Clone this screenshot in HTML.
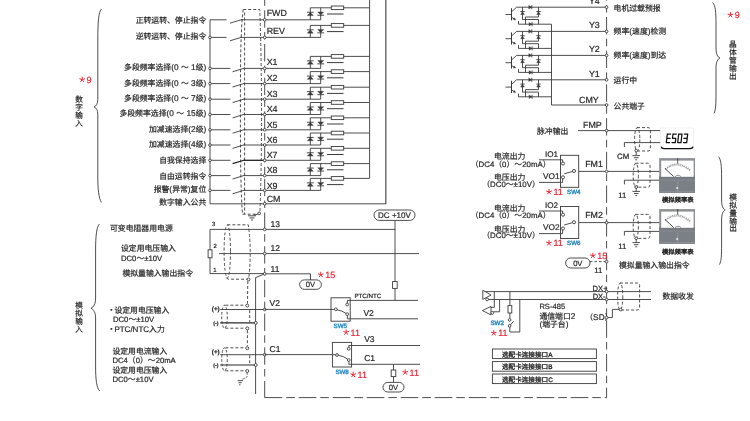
<!DOCTYPE html>
<html lang="zh"><head><meta charset="utf-8"><title>Inverter control terminal wiring diagram</title>
<style>html,body{margin:0;padding:0;background:#fff;}body{width:750px;height:421px;overflow:hidden;font-family:"Liberation Sans","Noto Sans CJK SC",sans-serif;}svg{display:block;will-change:transform;filter:blur(0.35px);}text{text-rendering:geometricPrecision;}</style></head>
<body>
<svg width="750" height="421" viewBox="0 0 750 421" font-family="'Liberation Sans', 'Noto Sans CJK SC', sans-serif" fill="none" stroke="#3a3a3a" stroke-width="0.9" stroke-linecap="butt" stroke-linejoin="miter"><rect width="750" height="421" fill="#fff" stroke="none"/><g><path d="M264.7 -23.4L264.7 397.6" stroke-dasharray="17.4 4.3 7.5 4.5"/>
<path d="M606.6 -16.7L606.6 397.6" stroke-dasharray="17.4 4.3 7.5 4.5"/>
<path d="M264.7 397.6L606.6 397.6" stroke-dasharray="17.6 4 8.6 3.8"/>
<path d="M244.6 12.5L244.6 214.2" stroke-dasharray="3 2"/>
<path d="M243.2 9.5C240.6 30 240.4 60 240.4 112C240.4 160 240.8 196 242.6 214.2" stroke-dasharray="3 2"/>
<path d="M243.2 9.5L259.8 9.5Q263.2 111.85 260 211.8" stroke-dasharray="3 2"/>
<path d="M242.6 214.2L257.6 214.2" stroke-dasharray="3 2"/>
<path d="M210 19.8L210 203.8"/>
<path d="M210 203.8L385.8 203.8"/>
<path d="M385.8 -2L385.8 204.3" stroke-width="1.3" stroke="#5a5a5a"/>
<path d="M369.6 -2L369.6 178.4"/>
<g fill="#262626" stroke="#262626" stroke-width="0.2"><title>正转运转、停止指令</title><text x="135.65" y="22.83" font-size="7.85">正转运转、停止指令</text></g>
<path d="M210 19.8L226.5 19.8"/>
<path d="M230 23.2L242 19.5"/>
<path d="M241.2 19.8L264.7 19.8"/>
<path d="M264.7 19.8L320.7 19.8"/>
<path d="M310.3 19.8L310.3 7.8L331.3 7.8"/>
<path d="M320.7 19.8L320.7 7.8"/>
<rect x="331.3" y="6" width="12.4" height="3.6" fill="#fff"/>
<path d="M343.7 7.8L369.6 7.8"/>
<path d="M327 14L343.5 14" stroke-width="1"/>
<path d="M307.3 15.55L313.3 15.55L310.3 12.45Z" stroke-width="0.4" fill="#3a3a3a"/>
<path d="M306.9 12.25L313.7 12.25" stroke-width="0.9"/>
<path d="M317.7 11.95L323.7 11.95L320.7 15.05Z" stroke-width="0.4" fill="#3a3a3a"/>
<path d="M317.3 15.25L324.1 15.25" stroke-width="0.9"/>
<circle cx="264.7" cy="19.8" r="1.35" fill="#fff"/>
<g fill="#262626" stroke="#262626" stroke-width="0.2"><text x="266.7" y="16.4" font-size="8.9">FWD</text></g>
<g fill="#262626" stroke="#262626" stroke-width="0.2"><title>逆转运转、停止指令</title><text x="135.65" y="38.63" font-size="7.85">逆转运转、停止指令</text></g>
<path d="M210 37.4L226.5 37.4"/>
<path d="M230 40.8L242 37.1"/>
<path d="M241.2 37.4L264.7 37.4"/>
<circle cx="210" cy="37.4" r="1.3" fill="#fff"/>
<path d="M264.7 37.4L320.7 37.4"/>
<path d="M310.3 37.4L310.3 25.4L331.3 25.4"/>
<path d="M320.7 37.4L320.7 25.4"/>
<rect x="331.3" y="23.6" width="12.4" height="3.6" fill="#fff"/>
<path d="M343.7 25.4L369.6 25.4"/>
<path d="M327 31.6L343.5 31.6" stroke-width="1"/>
<path d="M307.3 33.15L313.3 33.15L310.3 30.05Z" stroke-width="0.4" fill="#3a3a3a"/>
<path d="M306.9 29.85L313.7 29.85" stroke-width="0.9"/>
<path d="M317.7 29.55L323.7 29.55L320.7 32.65Z" stroke-width="0.4" fill="#3a3a3a"/>
<path d="M317.3 32.85L324.1 32.85" stroke-width="0.9"/>
<circle cx="264.7" cy="37.4" r="1.35" fill="#fff"/>
<g fill="#262626" stroke="#262626" stroke-width="0.2"><text x="266.7" y="34.4" font-size="8.9">REV</text></g>
<g fill="#262626" stroke="#262626" stroke-width="0.2"><title>多段频率选择(0 ～ 1级)</title><text x="124.08" y="69.63" font-size="7.85">多段频率选择</text><text x="171.18" y="69.63" font-size="8.32">(0&#160;</text><text x="180.89" y="69.63" font-size="7.85">～</text><text x="188.74" y="69.63" font-size="8.32">&#160;1</text><text x="195.68" y="69.63" font-size="7.85">级</text><text x="203.53" y="69.63" font-size="8.32">)</text></g>
<path d="M210 68.4L230.4 68.4"/>
<path d="M232.6 71.8L244.6 68.1"/>
<path d="M243.8 68.4L264.7 68.4"/>
<circle cx="210" cy="68.4" r="1.3" fill="#fff"/>
<path d="M264.7 68.4L320.7 68.4"/>
<path d="M310.3 68.4L310.3 56.4L331.3 56.4"/>
<path d="M320.7 68.4L320.7 56.4"/>
<rect x="331.3" y="54.6" width="12.4" height="3.6" fill="#fff"/>
<path d="M343.7 56.4L369.6 56.4"/>
<path d="M327 62.6L343.5 62.6" stroke-width="1"/>
<path d="M307.3 64.15L313.3 64.15L310.3 61.05Z" stroke-width="0.4" fill="#3a3a3a"/>
<path d="M306.9 60.85L313.7 60.85" stroke-width="0.9"/>
<path d="M317.7 60.55L323.7 60.55L320.7 63.65Z" stroke-width="0.4" fill="#3a3a3a"/>
<path d="M317.3 63.85L324.1 63.85" stroke-width="0.9"/>
<circle cx="264.7" cy="68.4" r="1.35" fill="#fff"/>
<g fill="#262626" stroke="#262626" stroke-width="0.2"><text x="266.7" y="65.2" font-size="8.9">X1</text></g>
<g fill="#262626" stroke="#262626" stroke-width="0.2"><title>多段频率选择(0 ～ 3级)</title><text x="124.08" y="85.73" font-size="7.85">多段频率选择</text><text x="171.18" y="85.73" font-size="8.32">(0&#160;</text><text x="180.89" y="85.73" font-size="7.85">～</text><text x="188.74" y="85.73" font-size="8.32">&#160;3</text><text x="195.68" y="85.73" font-size="7.85">级</text><text x="203.53" y="85.73" font-size="8.32">)</text></g>
<path d="M210 83.6L230.4 83.6"/>
<path d="M232.6 87L244.6 83.3"/>
<path d="M243.8 83.6L264.7 83.6"/>
<circle cx="210" cy="83.6" r="1.3" fill="#fff"/>
<path d="M264.7 83.6L320.7 83.6"/>
<path d="M310.3 83.6L310.3 71.6L331.3 71.6"/>
<path d="M320.7 83.6L320.7 71.6"/>
<rect x="331.3" y="69.8" width="12.4" height="3.6" fill="#fff"/>
<path d="M343.7 71.6L369.6 71.6"/>
<path d="M327 77.8L343.5 77.8" stroke-width="1"/>
<path d="M307.3 79.35L313.3 79.35L310.3 76.25Z" stroke-width="0.4" fill="#3a3a3a"/>
<path d="M306.9 76.05L313.7 76.05" stroke-width="0.9"/>
<path d="M317.7 75.75L323.7 75.75L320.7 78.85Z" stroke-width="0.4" fill="#3a3a3a"/>
<path d="M317.3 79.05L324.1 79.05" stroke-width="0.9"/>
<circle cx="264.7" cy="83.6" r="1.35" fill="#fff"/>
<g fill="#262626" stroke="#262626" stroke-width="0.2"><text x="266.7" y="81" font-size="8.9">X2</text></g>
<g fill="#262626" stroke="#262626" stroke-width="0.2"><title>多段频率选择(0 ～ 7级)</title><text x="124.08" y="100.83" font-size="7.85">多段频率选择</text><text x="171.18" y="100.83" font-size="8.32">(0&#160;</text><text x="180.89" y="100.83" font-size="7.85">～</text><text x="188.74" y="100.83" font-size="8.32">&#160;7</text><text x="195.68" y="100.83" font-size="7.85">级</text><text x="203.53" y="100.83" font-size="8.32">)</text></g>
<path d="M210 99.2L230.4 99.2"/>
<path d="M232.6 102.6L244.6 98.9"/>
<path d="M243.8 99.2L264.7 99.2"/>
<circle cx="210" cy="99.2" r="1.3" fill="#fff"/>
<path d="M264.7 99.2L320.7 99.2"/>
<path d="M310.3 99.2L310.3 87.2L331.3 87.2"/>
<path d="M320.7 99.2L320.7 87.2"/>
<rect x="331.3" y="85.4" width="12.4" height="3.6" fill="#fff"/>
<path d="M343.7 87.2L369.6 87.2"/>
<path d="M327 93.4L343.5 93.4" stroke-width="1"/>
<path d="M307.3 94.95L313.3 94.95L310.3 91.85Z" stroke-width="0.4" fill="#3a3a3a"/>
<path d="M306.9 91.65L313.7 91.65" stroke-width="0.9"/>
<path d="M317.7 91.35L323.7 91.35L320.7 94.45Z" stroke-width="0.4" fill="#3a3a3a"/>
<path d="M317.3 94.65L324.1 94.65" stroke-width="0.9"/>
<circle cx="264.7" cy="99.2" r="1.35" fill="#fff"/>
<g fill="#262626" stroke="#262626" stroke-width="0.2"><text x="266.7" y="97.4" font-size="8.9">X3</text></g>
<g fill="#262626" stroke="#262626" stroke-width="0.2"><title>多段频率选择(0 ～ 15级)</title><text x="119.45" y="116.43" font-size="7.85">多段频率选择</text><text x="166.55" y="116.43" font-size="8.32">(0&#160;</text><text x="176.26" y="116.43" font-size="7.85">～</text><text x="184.11" y="116.43" font-size="8.32">&#160;15</text><text x="195.68" y="116.43" font-size="7.85">级</text><text x="203.53" y="116.43" font-size="8.32">)</text></g>
<path d="M210 114.5L230.4 114.5"/>
<path d="M232.6 117.9L244.6 114.2"/>
<path d="M243.8 114.5L264.7 114.5"/>
<circle cx="210" cy="114.5" r="1.3" fill="#fff"/>
<path d="M264.7 114.5L320.7 114.5"/>
<path d="M310.3 114.5L310.3 102.5L331.3 102.5"/>
<path d="M320.7 114.5L320.7 102.5"/>
<rect x="331.3" y="100.7" width="12.4" height="3.6" fill="#fff"/>
<path d="M343.7 102.5L369.6 102.5"/>
<path d="M327 108.7L343.5 108.7" stroke-width="1"/>
<path d="M307.3 110.25L313.3 110.25L310.3 107.15Z" stroke-width="0.4" fill="#3a3a3a"/>
<path d="M306.9 106.95L313.7 106.95" stroke-width="0.9"/>
<path d="M317.7 106.65L323.7 106.65L320.7 109.75Z" stroke-width="0.4" fill="#3a3a3a"/>
<path d="M317.3 109.95L324.1 109.95" stroke-width="0.9"/>
<circle cx="264.7" cy="114.5" r="1.35" fill="#fff"/>
<g fill="#262626" stroke="#262626" stroke-width="0.2"><text x="266.7" y="112.4" font-size="8.9">X4</text></g>
<g fill="#262626" stroke="#262626" stroke-width="0.2"><title>加减速选择(2级)</title><text x="149.03" y="131.73" font-size="7.85">加减速选择</text><text x="188.28" y="131.73" font-size="8.32">(2</text><text x="195.68" y="131.73" font-size="7.85">级</text><text x="203.53" y="131.73" font-size="8.32">)</text></g>
<path d="M210 129.8L230.4 129.8"/>
<path d="M232.6 133.2L244.6 129.5"/>
<path d="M243.8 129.8L264.7 129.8"/>
<circle cx="210" cy="129.8" r="1.3" fill="#fff"/>
<path d="M264.7 129.8L320.7 129.8"/>
<path d="M310.3 129.8L310.3 117.8L331.3 117.8"/>
<path d="M320.7 129.8L320.7 117.8"/>
<rect x="331.3" y="116" width="12.4" height="3.6" fill="#fff"/>
<path d="M343.7 117.8L369.6 117.8"/>
<path d="M327 124L343.5 124" stroke-width="1"/>
<path d="M307.3 125.55L313.3 125.55L310.3 122.45Z" stroke-width="0.4" fill="#3a3a3a"/>
<path d="M306.9 122.25L313.7 122.25" stroke-width="0.9"/>
<path d="M317.7 121.95L323.7 121.95L320.7 125.05Z" stroke-width="0.4" fill="#3a3a3a"/>
<path d="M317.3 125.25L324.1 125.25" stroke-width="0.9"/>
<circle cx="264.7" cy="129.8" r="1.35" fill="#fff"/>
<g fill="#262626" stroke="#262626" stroke-width="0.2"><text x="266.7" y="128" font-size="8.9">X5</text></g>
<g fill="#262626" stroke="#262626" stroke-width="0.2"><title>加减速选择(4级)</title><text x="149.03" y="146.83" font-size="7.85">加减速选择</text><text x="188.28" y="146.83" font-size="8.32">(4</text><text x="195.68" y="146.83" font-size="7.85">级</text><text x="203.53" y="146.83" font-size="8.32">)</text></g>
<path d="M210 145L230.4 145"/>
<path d="M232.6 148.4L244.6 144.7"/>
<path d="M243.8 145L264.7 145"/>
<circle cx="210" cy="145" r="1.3" fill="#fff"/>
<path d="M264.7 145L320.7 145"/>
<path d="M310.3 145L310.3 133L331.3 133"/>
<path d="M320.7 145L320.7 133"/>
<rect x="331.3" y="131.2" width="12.4" height="3.6" fill="#fff"/>
<path d="M343.7 133L369.6 133"/>
<path d="M327 139.2L343.5 139.2" stroke-width="1"/>
<path d="M307.3 140.75L313.3 140.75L310.3 137.65Z" stroke-width="0.4" fill="#3a3a3a"/>
<path d="M306.9 137.45L313.7 137.45" stroke-width="0.9"/>
<path d="M317.7 137.15L323.7 137.15L320.7 140.25Z" stroke-width="0.4" fill="#3a3a3a"/>
<path d="M317.3 140.45L324.1 140.45" stroke-width="0.9"/>
<circle cx="264.7" cy="145" r="1.35" fill="#fff"/>
<g fill="#262626" stroke="#262626" stroke-width="0.2"><text x="266.7" y="142.8" font-size="8.9">X6</text></g>
<g fill="#262626" stroke="#262626" stroke-width="0.2"><title>自我保持选择</title><text x="159.2" y="163.23" font-size="7.85">自我保持选择</text></g>
<path d="M210 160.3L230.4 160.3"/>
<path d="M232.6 163.7L244.6 160" stroke-width="1.3" stroke="#222"/>
<path d="M243.8 160.3L264.7 160.3" stroke-width="1.3" stroke="#222"/>
<circle cx="210" cy="160.3" r="1.3" fill="#fff"/>
<path d="M264.7 160.3L320.7 160.3"/>
<path d="M310.3 160.3L310.3 148.3L331.3 148.3"/>
<path d="M320.7 160.3L320.7 148.3"/>
<rect x="331.3" y="146.5" width="12.4" height="3.6" fill="#fff"/>
<path d="M343.7 148.3L369.6 148.3"/>
<path d="M327 154.5L343.5 154.5" stroke-width="1"/>
<path d="M307.3 156.05L313.3 156.05L310.3 152.95Z" stroke-width="0.4" fill="#3a3a3a"/>
<path d="M306.9 152.75L313.7 152.75" stroke-width="0.9"/>
<path d="M317.7 152.45L323.7 152.45L320.7 155.55Z" stroke-width="0.4" fill="#3a3a3a"/>
<path d="M317.3 155.75L324.1 155.75" stroke-width="0.9"/>
<circle cx="264.7" cy="160.3" r="1.35" fill="#fff"/>
<g fill="#262626" stroke="#262626" stroke-width="0.2"><text x="266.7" y="158.4" font-size="8.9">X7</text></g>
<g fill="#262626" stroke="#262626" stroke-width="0.2"><title>自由运转指令</title><text x="159.2" y="179.03" font-size="7.85">自由运转指令</text></g>
<path d="M210 175.6L230.4 175.6"/>
<path d="M232.6 179L244.6 175.3"/>
<path d="M243.8 175.6L264.7 175.6"/>
<circle cx="210" cy="175.6" r="1.3" fill="#fff"/>
<path d="M264.7 175.6L320.7 175.6"/>
<path d="M310.3 175.6L310.3 163.6L331.3 163.6"/>
<path d="M320.7 175.6L320.7 163.6"/>
<rect x="331.3" y="161.8" width="12.4" height="3.6" fill="#fff"/>
<path d="M343.7 163.6L369.6 163.6"/>
<path d="M327 169.8L343.5 169.8" stroke-width="1"/>
<path d="M307.3 171.35L313.3 171.35L310.3 168.25Z" stroke-width="0.4" fill="#3a3a3a"/>
<path d="M306.9 168.05L313.7 168.05" stroke-width="0.9"/>
<path d="M317.7 167.75L323.7 167.75L320.7 170.85Z" stroke-width="0.4" fill="#3a3a3a"/>
<path d="M317.3 171.05L324.1 171.05" stroke-width="0.9"/>
<circle cx="264.7" cy="175.6" r="1.35" fill="#fff"/>
<g fill="#262626" stroke="#262626" stroke-width="0.2"><text x="266.7" y="173.2" font-size="8.9">X8</text></g>
<g fill="#262626" stroke="#262626" stroke-width="0.2"><title>报警(异常)复位</title><text x="153.66" y="191.83" font-size="7.85">报警</text><text x="169.36" y="191.83" font-size="8.32">(</text><text x="172.13" y="191.83" font-size="7.85">异常</text><text x="187.83" y="191.83" font-size="8.32">)</text><text x="190.6" y="191.83" font-size="7.85">复位</text></g>
<path d="M210 190.4L230.4 190.4"/>
<path d="M232.6 193.8L244.6 190.1"/>
<path d="M243.8 190.4L264.7 190.4"/>
<circle cx="210" cy="190.4" r="1.3" fill="#fff"/>
<path d="M264.7 190.4L320.7 190.4"/>
<path d="M310.3 190.4L310.3 178.4L331.3 178.4"/>
<path d="M320.7 190.4L320.7 178.4"/>
<rect x="331.3" y="176.6" width="12.4" height="3.6" fill="#fff"/>
<path d="M343.7 178.4L369.6 178.4"/>
<path d="M327 184.6L343.5 184.6" stroke-width="1"/>
<path d="M307.3 186.15L313.3 186.15L310.3 183.05Z" stroke-width="0.4" fill="#3a3a3a"/>
<path d="M306.9 182.85L313.7 182.85" stroke-width="0.9"/>
<path d="M317.7 182.55L323.7 182.55L320.7 185.65Z" stroke-width="0.4" fill="#3a3a3a"/>
<path d="M317.3 185.85L324.1 185.85" stroke-width="0.9"/>
<circle cx="264.7" cy="190.4" r="1.35" fill="#fff"/>
<g fill="#262626" stroke="#262626" stroke-width="0.2"><text x="266.7" y="189" font-size="8.9">X9</text></g>
<g fill="#262626" stroke="#262626" stroke-width="0.2"><title>数字输入公共</title><text x="159.2" y="204.93" font-size="7.85">数字输入公共</text></g>
<circle cx="264.7" cy="203.8" r="1.35" fill="#fff"/>
<g fill="#262626" stroke="#262626" stroke-width="0.2"><text x="266.7" y="202.2" font-size="8.9">CM</text></g>
<path d="M259.2 213.6L254 215.3"/>
<circle cx="259.2" cy="213.3" r="1.35" fill="#fff"/>
<path d="M248 215.8L256 215.8" stroke-width="0.9"/>
<path d="M249.52 217.9L254.48 217.9" stroke-width="0.9"/>
<path d="M251 220L253 220" stroke-width="0.9"/>
<path d="M101.4 9C98.6 12 97.8 22 97.8 40L97.8 99.6C97.8 103.6 96.4 106 94 106.9C96.4 107.8 97.8 110.2 97.8 114.2L97.8 176C97.8 190 98.8 198 101.4 202.4" stroke-width="0.9"/>
<path d="M82.2 79.6L82.2 76.7M82.2 79.6L84.96 78.7M82.2 79.6L83.9 81.95M82.2 79.6L80.5 81.95M82.2 79.6L79.44 78.7" stroke-width="1" stroke="#ea2836"/>
<g fill="#ea2836" stroke="#ea2836" stroke-width="0.2"><text x="86.6" y="82.9" font-size="9">9</text></g>
<g fill="#262626" stroke="#262626" stroke-width="0.2"><title>数字输入</title><text font-size="7.6"><tspan x="75.2" y="101.89">数</tspan><tspan x="75.2" y="109.89">字</tspan><tspan x="75.2" y="117.89">输</tspan><tspan x="75.2" y="125.89">入</tspan></text></g>
<path d="M505.5 14.5L511.5 14.5"/>
<path d="M511.5 8.2L511.5 20.4" stroke-width="1"/>
<path d="M511.5 11.8L516.6 7.2L606.6 7.2"/>
<path d="M511.5 17.2L515.2 19.6"/>
<path d="M515.6 19.9L513.2 19.6L514.6 17.8Z" stroke-width="0.3" fill="#3a3a3a"/>
<path d="M518.5 21L518.5 24.2L551.5 24.2"/>
<path d="M522.5 7.2L522.5 19.5"/>
<path d="M538.5 7.2L538.5 17"/>
<path d="M538.5 17L525.5 17L525.5 24.2"/>
<path d="M522.5 19.5L538.5 19.5L538.5 24.2"/>
<path d="M520.6 14.5L524.4 14.5L522.5 11.7Z" stroke-width="0.4" fill="#3a3a3a"/>
<path d="M520.3 11.5L524.7 11.5" stroke-width="0.9"/>
<path d="M536.6 14.5L540.4 14.5L538.5 11.7Z" stroke-width="0.4" fill="#3a3a3a"/>
<path d="M536.3 11.5L540.7 11.5" stroke-width="0.9"/>
<path d="M528.8 5.4L528.8 9L531.6 7.2Z" stroke-width="0.4" fill="#3a3a3a"/>
<path d="M531.8 5.2L531.8 9.2" stroke-width="0.9"/>
<path d="M529.1 22.4L529.1 26L531.9 24.2Z" stroke-width="0.4" fill="#3a3a3a"/>
<path d="M532.1 22.2L532.1 26.2" stroke-width="0.9"/>
<path d="M505.5 38.7L511.5 38.7"/>
<path d="M511.5 32.4L511.5 44.6" stroke-width="1"/>
<path d="M511.5 36L516.6 31.4L606.6 31.4"/>
<path d="M511.5 41.4L515.2 43.8"/>
<path d="M515.6 44.1L513.2 43.8L514.6 42Z" stroke-width="0.3" fill="#3a3a3a"/>
<path d="M518.5 45.2L518.5 48.4L551.5 48.4"/>
<path d="M522.5 31.4L522.5 43.7"/>
<path d="M538.5 31.4L538.5 41.2"/>
<path d="M538.5 41.2L525.5 41.2L525.5 48.4"/>
<path d="M522.5 43.7L538.5 43.7L538.5 48.4"/>
<path d="M520.6 38.7L524.4 38.7L522.5 35.9Z" stroke-width="0.4" fill="#3a3a3a"/>
<path d="M520.3 35.7L524.7 35.7" stroke-width="0.9"/>
<path d="M536.6 38.7L540.4 38.7L538.5 35.9Z" stroke-width="0.4" fill="#3a3a3a"/>
<path d="M536.3 35.7L540.7 35.7" stroke-width="0.9"/>
<path d="M528.8 29.6L528.8 33.2L531.6 31.4Z" stroke-width="0.4" fill="#3a3a3a"/>
<path d="M531.8 29.4L531.8 33.4" stroke-width="0.9"/>
<path d="M529.1 46.6L529.1 50.2L531.9 48.4Z" stroke-width="0.4" fill="#3a3a3a"/>
<path d="M532.1 46.4L532.1 50.4" stroke-width="0.9"/>
<path d="M505.5 62.7L511.5 62.7"/>
<path d="M511.5 56.4L511.5 68.6" stroke-width="1"/>
<path d="M511.5 60L516.6 55.4L606.6 55.4"/>
<path d="M511.5 65.4L515.2 67.8"/>
<path d="M515.6 68.1L513.2 67.8L514.6 66Z" stroke-width="0.3" fill="#3a3a3a"/>
<path d="M518.5 69.2L518.5 72.4L551.5 72.4"/>
<path d="M522.5 55.4L522.5 67.7"/>
<path d="M538.5 55.4L538.5 65.2"/>
<path d="M538.5 65.2L525.5 65.2L525.5 72.4"/>
<path d="M522.5 67.7L538.5 67.7L538.5 72.4"/>
<path d="M520.6 62.7L524.4 62.7L522.5 59.9Z" stroke-width="0.4" fill="#3a3a3a"/>
<path d="M520.3 59.7L524.7 59.7" stroke-width="0.9"/>
<path d="M536.6 62.7L540.4 62.7L538.5 59.9Z" stroke-width="0.4" fill="#3a3a3a"/>
<path d="M536.3 59.7L540.7 59.7" stroke-width="0.9"/>
<path d="M528.8 53.6L528.8 57.2L531.6 55.4Z" stroke-width="0.4" fill="#3a3a3a"/>
<path d="M531.8 53.4L531.8 57.4" stroke-width="0.9"/>
<path d="M529.1 70.6L529.1 74.2L531.9 72.4Z" stroke-width="0.4" fill="#3a3a3a"/>
<path d="M532.1 70.4L532.1 74.4" stroke-width="0.9"/>
<path d="M505.5 87.1L511.5 87.1"/>
<path d="M511.5 80.8L511.5 93" stroke-width="1"/>
<path d="M511.5 84.4L516.6 79.8L606.6 79.8"/>
<path d="M511.5 89.8L515.2 92.2"/>
<path d="M515.6 92.5L513.2 92.2L514.6 90.4Z" stroke-width="0.3" fill="#3a3a3a"/>
<path d="M518.5 93.6L518.5 96.8L551.5 96.8"/>
<path d="M522.5 79.8L522.5 92.1"/>
<path d="M538.5 79.8L538.5 89.6"/>
<path d="M538.5 89.6L525.5 89.6L525.5 96.8"/>
<path d="M522.5 92.1L538.5 92.1L538.5 96.8"/>
<path d="M520.6 87.1L524.4 87.1L522.5 84.3Z" stroke-width="0.4" fill="#3a3a3a"/>
<path d="M520.3 84.1L524.7 84.1" stroke-width="0.9"/>
<path d="M536.6 87.1L540.4 87.1L538.5 84.3Z" stroke-width="0.4" fill="#3a3a3a"/>
<path d="M536.3 84.1L540.7 84.1" stroke-width="0.9"/>
<path d="M528.8 78L528.8 81.6L531.6 79.8Z" stroke-width="0.4" fill="#3a3a3a"/>
<path d="M531.8 77.8L531.8 81.8" stroke-width="0.9"/>
<path d="M529.1 95L529.1 98.6L531.9 96.8Z" stroke-width="0.4" fill="#3a3a3a"/>
<path d="M532.1 94.8L532.1 98.8" stroke-width="0.9"/>
<path d="M551.5 24.2L551.5 105L606.6 105"/>
<circle cx="606.6" cy="7.2" r="1.35" fill="#fff"/>
<g fill="#262626" stroke="#262626" stroke-width="0.2"><text x="588.91" y="4.2" font-size="8.9">Y4</text></g>
<g fill="#262626" stroke="#262626" stroke-width="0.2"><title>电机过载预报</title><text x="613.6" y="10.83" font-size="7.85">电机过载预报</text></g>
<circle cx="606.6" cy="31.4" r="1.35" fill="#fff"/>
<g fill="#262626" stroke="#262626" stroke-width="0.2"><text x="588.91" y="28.2" font-size="8.9">Y3</text></g>
<g fill="#262626" stroke="#262626" stroke-width="0.2"><title>频率(速度)检测</title><text x="613.6" y="34.43" font-size="7.85">频率</text><text x="629.3" y="34.43" font-size="8.32">(</text><text x="632.07" y="34.43" font-size="7.85">速度</text><text x="647.77" y="34.43" font-size="8.32">)</text><text x="650.54" y="34.43" font-size="7.85">检测</text></g>
<circle cx="606.6" cy="55.4" r="1.35" fill="#fff"/>
<g fill="#262626" stroke="#262626" stroke-width="0.2"><text x="588.91" y="52.4" font-size="8.9">Y2</text></g>
<g fill="#262626" stroke="#262626" stroke-width="0.2"><title>频率(速度)到达</title><text x="613.6" y="58.43" font-size="7.85">频率</text><text x="629.3" y="58.43" font-size="8.32">(</text><text x="632.07" y="58.43" font-size="7.85">速度</text><text x="647.77" y="58.43" font-size="8.32">)</text><text x="650.54" y="58.43" font-size="7.85">到达</text></g>
<circle cx="606.6" cy="79.8" r="1.35" fill="#fff"/>
<g fill="#262626" stroke="#262626" stroke-width="0.2"><text x="588.91" y="77" font-size="8.9">Y1</text></g>
<g fill="#262626" stroke="#262626" stroke-width="0.2"><title>运行中</title><text x="613.6" y="82.53" font-size="7.85">运行中</text></g>
<circle cx="606.6" cy="105" r="1.35" fill="#fff"/>
<g fill="#262626" stroke="#262626" stroke-width="0.2"><text x="579.01" y="102.6" font-size="8.9">CMY</text></g>
<g fill="#262626" stroke="#262626" stroke-width="0.2"><title>公共端子</title><text x="613.6" y="108.83" font-size="7.85">公共端子</text></g>
<path d="M712.6 2.6C715.4 5 716 12 716 24L716 48C716 54 717.6 57 720 58C717.6 59 716 62 716 68L716 92C716 104 715.8 110 714 113.4" stroke-width="0.9"/>
<path d="M730.4 15L730.4 12.1M730.4 15L733.16 14.1M730.4 15L732.1 17.35M730.4 15L728.7 17.35M730.4 15L727.64 14.1" stroke-width="1" stroke="#ea2836"/>
<g fill="#ea2836" stroke="#ea2836" stroke-width="0.2"><text x="734.8" y="18.3" font-size="9">9</text></g>
<g fill="#262626" stroke="#262626" stroke-width="0.2"><title>晶体管输出</title><text font-size="7.7"><tspan x="728.95" y="47.03">晶</tspan><tspan x="728.95" y="55.03">体</tspan><tspan x="728.95" y="63.03">管</tspan><tspan x="728.95" y="70.83">输</tspan><tspan x="728.95" y="78.63">出</tspan></text></g>
<g fill="#262626" stroke="#262626" stroke-width="0.2"><title>脉冲输出</title><text x="537" y="133.83" font-size="7.85">脉冲输出</text></g>
<path d="M578 130.6L660.5 130.6"/>
<g fill="#262626" stroke="#262626" stroke-width="0.2"><text x="583.01" y="128.1" font-size="8.9">FMP</text></g>
<circle cx="606.6" cy="130.6" r="1.35" fill="#fff"/>
<path d="M637 127.6L647.9 127.6Q650.4 127.6 650.4 130.1L650.4 148.5Q650.4 151 647.9 151L638 151" stroke-dasharray="3 2"/>
<ellipse cx="637.2" cy="139.3" rx="2.6" ry="11.7" stroke-dasharray="3 2"/>
<path d="M624.4 147L624.4 142.6L660.5 142.6"/>
<path d="M636.2 151.5L636.2 155.5"/>
<circle cx="636.2" cy="150.6" r="1.35" fill="#fff"/>
<path d="M632.45 155.6L639.95 155.6" stroke-width="0.9"/>
<path d="M633.88 157.7L638.53 157.7" stroke-width="0.9"/>
<path d="M635.26 159.8L637.14 159.8" stroke-width="0.9"/>
<g fill="#262626" stroke="#262626" stroke-width="0.2"><text x="617" y="159.4" font-size="7.8">CM</text></g>
<rect x="660.5" y="128" width="32.8" height="20.4" fill="#fff" stroke-width="0.25" stroke="#ccc"/>
<path d="M661.2 146.6Q661.6 148.6 664 148.6L690 148.6Q692.6 148.6 693 146.6" stroke-width="1.25" stroke="#111"/>
<path d="M667.3 134L670.6 134M666.3 142.6L669.6 142.6M666.8 138.3L666.3 142.6M667.3 134L666.8 138.3M666.8 138.3L670.1 138.3" stroke-width="1.25" stroke="#111" stroke-linecap="round"/>
<path d="M673 134L676.3 134M675.8 138.3L675.3 142.6M672 142.6L675.3 142.6M673 134L672.5 138.3M672.5 138.3L675.8 138.3" stroke-width="1.25" stroke="#111" stroke-linecap="round"/>
<path d="M678.7 134L682 134M682 134L681.5 138.3M681.5 138.3L681 142.6M677.7 142.6L681 142.6M678.2 138.3L677.7 142.6M678.7 134L678.2 138.3" stroke-width="1.25" stroke="#111" stroke-linecap="round"/>
<path d="M684.4 134L687.7 134M687.7 134L687.2 138.3M687.2 138.3L686.7 142.6M683.4 142.6L686.7 142.6M683.9 138.3L687.2 138.3" stroke-width="1.25" stroke="#111" stroke-linecap="round"/>
<rect x="659.2" y="158.1" width="35.8" height="34.7" fill="#8d9195" stroke-width="0"/>
<rect x="659.2" y="176.7" width="35.8" height="16.1" fill="#7b8086" stroke-width="0"/>
<path d="M659.2 180.3L695 180.3" stroke-width="0.6" stroke="#8b9096"/>
<path d="M659.2 191.7L695 191.7" stroke-width="0.7" stroke="#92979c"/>
<path d="M659.2 177L695 177" stroke-width="0.7" stroke="#6a6e73"/>
<path d="M677.7 181.6L677.7 192.8" stroke-width="0.7" stroke="#999ea3"/>
<rect x="661.2" y="160.6" width="32.4" height="16.2" fill="#fff" stroke-width="0"/>
<path d="M665.2 168.7Q677.5 158.9 690.2 170.1" stroke-width="1.3" stroke="#6a6a6a" stroke-dasharray="0.8 1.25"/>
<path d="M665.2 169.5Q677.5 159.9 690.2 170.9" stroke-width="0.45" stroke="#888"/>
<path d="M673.6 176.5L665 168.5" stroke-width="0.9" stroke="#333"/>
<path d="M674.8 176.8Q678 173.7 681.2 176.8" stroke-width="0.7" stroke="#666" fill="#e4e4e4"/>
<path d="M677.7 158.1L677.7 163.7" stroke-width="0.9" stroke="#444"/>
<circle cx="677.2" cy="188.1" r="1" fill="#eee" stroke-width="0.3" stroke="#ccc"/>
<path d="M635.6 163.2L647.5 163.2Q650 163.2 650 165.7L650 184.7Q650 187.2 647.5 187.2L636.6 187.2" stroke-dasharray="3 2"/>
<ellipse cx="635.8" cy="175.2" rx="2.6" ry="12" stroke-dasharray="3 2"/>
<path d="M606.6 171.4L659.3 171.4"/>
<path d="M624.4 184.4L624.4 180.2L659.3 180.2"/>
<path d="M636.2 187.6L636.2 191.4"/>
<circle cx="636.2" cy="187" r="1.35" fill="#fff"/>
<path d="M632.45 191.4L639.95 191.4" stroke-width="0.9"/>
<path d="M633.88 193.5L638.53 193.5" stroke-width="0.9"/>
<path d="M635.26 195.6L637.14 195.6" stroke-width="0.9"/>
<g fill="#262626" stroke="#262626" stroke-width="0.2"><text x="618.2" y="197.6" font-size="7.8">11</text></g>
<g fill="#262626" stroke="#262626" stroke-width="0.4"><title>模拟频率表</title><text x="661.92" y="202.49" font-size="6.35">模拟频率表</text></g>
<rect x="560.5" y="155.3" width="18.2" height="32" fill="#fff"/>
<path d="M539 159.8L562.6 159.8L562.6 162"/>
<path d="M539 182.4L562.6 182.4L562.6 178.8"/>
<circle cx="563" cy="163.5" r="1.55" fill="#fff"/>
<circle cx="563" cy="177.3" r="1.55" fill="#fff"/>
<path d="M564.2 173.8L572.4 171.5"/>
<circle cx="574" cy="171" r="1.55" fill="#fff"/>
<path d="M579 171.4L606.6 171.4"/>
<circle cx="606.6" cy="171.4" r="1.35" fill="#fff"/>
<g fill="#262626" stroke="#262626" stroke-width="0.2"><text x="545" y="156.8" font-size="8.16">IO1</text></g>
<g fill="#262626" stroke="#262626" stroke-width="0.2"><text x="543" y="178.6" font-size="8.27">VO1</text></g>
<g fill="#262626" stroke="#262626" stroke-width="0.2"><text x="585.2" y="167.1" font-size="8.8">FM1</text></g>
<g fill="#2c8cc4" stroke="#2c8cc4" stroke-width="0.4"><text x="567" y="194" font-size="6.2">SW4</text></g>
<path d="M549 191.9L549 189M549 191.9L551.76 191M549 191.9L550.7 194.25M549 191.9L547.3 194.25M549 191.9L546.24 191" stroke-width="1" stroke="#ea2836"/>
<g fill="#ea2836" stroke="#ea2836" stroke-width="0.2"><text x="553.4" y="195.2" font-size="9">11</text></g>
<g fill="#262626" stroke="#262626" stroke-width="0.2"><title>电流出力</title><text x="494" y="159.43" font-size="7.85">电流出力</text></g>
<g fill="#262626" stroke="#262626" stroke-width="0.2"><title>（DC4（0）～20mA）</title><text x="470.72" y="166.83" font-size="7.85">（</text><text x="478.57" y="166.83" font-size="7.85">DC4</text><text x="494.27" y="166.83" font-size="7.85">（</text><text x="502.12" y="166.83" font-size="7.85">0</text><text x="506.49" y="166.83" font-size="7.85">）～</text><text x="522.19" y="166.83" font-size="7.85">20mA</text><text x="542.7" y="166.83" font-size="7.85">）</text></g>
<g fill="#262626" stroke="#262626" stroke-width="0.2"><title>电压出力</title><text x="494" y="180.33" font-size="7.85">电压出力</text></g>
<g fill="#262626" stroke="#262626" stroke-width="0.2"><title>（DC0～±10V）</title><text x="482.22" y="187.03" font-size="7.85">（</text><text x="490.07" y="187.03" font-size="7.85">DC0</text><text x="505.77" y="187.03" font-size="7.85">～</text><text x="513.62" y="187.03" font-size="7.85">±10V</text><text x="531.9" y="187.03" font-size="7.85">）</text></g>
<rect x="659.2" y="209.1" width="35.8" height="34.7" fill="#8d9195" stroke-width="0"/>
<rect x="659.2" y="227.7" width="35.8" height="16.1" fill="#7b8086" stroke-width="0"/>
<path d="M659.2 231.3L695 231.3" stroke-width="0.6" stroke="#8b9096"/>
<path d="M659.2 242.7L695 242.7" stroke-width="0.7" stroke="#92979c"/>
<path d="M659.2 228L695 228" stroke-width="0.7" stroke="#6a6e73"/>
<path d="M677.7 232.6L677.7 243.8" stroke-width="0.7" stroke="#999ea3"/>
<rect x="661.2" y="211.6" width="32.4" height="16.2" fill="#fff" stroke-width="0"/>
<path d="M665.2 219.7Q677.5 209.9 690.2 221.1" stroke-width="1.3" stroke="#6a6a6a" stroke-dasharray="0.8 1.25"/>
<path d="M665.2 220.5Q677.5 210.9 690.2 221.9" stroke-width="0.45" stroke="#888"/>
<path d="M673.6 227.5L665 219.5" stroke-width="0.9" stroke="#333"/>
<path d="M674.8 227.8Q678 224.7 681.2 227.8" stroke-width="0.7" stroke="#666" fill="#e4e4e4"/>
<path d="M677.7 209.1L677.7 214.7" stroke-width="0.9" stroke="#444"/>
<circle cx="677.2" cy="239.1" r="1" fill="#eee" stroke-width="0.3" stroke="#ccc"/>
<path d="M635.6 214.4L647.5 214.4Q650 214.4 650 216.9L650 235.9Q650 238.4 647.5 238.4L636.6 238.4" stroke-dasharray="3 2"/>
<ellipse cx="635.8" cy="226.4" rx="2.6" ry="12" stroke-dasharray="3 2"/>
<path d="M606.6 222.6L659.3 222.6"/>
<path d="M624.4 235.6L624.4 231.4L659.3 231.4"/>
<path d="M636.2 238.8L636.2 242.6"/>
<circle cx="636.2" cy="238.2" r="1.35" fill="#fff"/>
<path d="M632.45 242.6L639.95 242.6" stroke-width="0.9"/>
<path d="M633.88 244.7L638.53 244.7" stroke-width="0.9"/>
<path d="M635.26 246.8L637.14 246.8" stroke-width="0.9"/>
<g fill="#262626" stroke="#262626" stroke-width="0.2"><text x="618.2" y="248.8" font-size="7.8">11</text></g>
<g fill="#262626" stroke="#262626" stroke-width="0.4"><title>模拟频率表</title><text x="661.92" y="253.69" font-size="6.35">模拟频率表</text></g>
<rect x="560.5" y="206.5" width="18.2" height="32" fill="#fff"/>
<path d="M539 211L562.6 211L562.6 213.2"/>
<path d="M539 233.6L562.6 233.6L562.6 230"/>
<circle cx="563" cy="214.7" r="1.55" fill="#fff"/>
<circle cx="563" cy="228.5" r="1.55" fill="#fff"/>
<path d="M564.2 225L572.4 222.7"/>
<circle cx="574" cy="222.2" r="1.55" fill="#fff"/>
<path d="M579 222.6L606.6 222.6"/>
<circle cx="606.6" cy="222.6" r="1.35" fill="#fff"/>
<g fill="#262626" stroke="#262626" stroke-width="0.2"><text x="545" y="208" font-size="8.16">IO2</text></g>
<g fill="#262626" stroke="#262626" stroke-width="0.2"><text x="543" y="229.8" font-size="8.27">VO2</text></g>
<g fill="#262626" stroke="#262626" stroke-width="0.2"><text x="585.2" y="218.3" font-size="8.8">FM2</text></g>
<g fill="#2c8cc4" stroke="#2c8cc4" stroke-width="0.4"><text x="567" y="245.2" font-size="6.2">SW6</text></g>
<path d="M549 243.1L549 240.2M549 243.1L551.76 242.2M549 243.1L550.7 245.45M549 243.1L547.3 245.45M549 243.1L546.24 242.2" stroke-width="1" stroke="#ea2836"/>
<g fill="#ea2836" stroke="#ea2836" stroke-width="0.2"><text x="553.4" y="246.4" font-size="9">11</text></g>
<g fill="#262626" stroke="#262626" stroke-width="0.2"><title>电流出力</title><text x="494" y="210.63" font-size="7.85">电流出力</text></g>
<g fill="#262626" stroke="#262626" stroke-width="0.2"><title>（DC4（0）～20mA）</title><text x="470.72" y="218.03" font-size="7.85">（</text><text x="478.57" y="218.03" font-size="7.85">DC4</text><text x="494.27" y="218.03" font-size="7.85">（</text><text x="502.12" y="218.03" font-size="7.85">0</text><text x="506.49" y="218.03" font-size="7.85">）～</text><text x="522.19" y="218.03" font-size="7.85">20mA</text><text x="542.7" y="218.03" font-size="7.85">）</text></g>
<g fill="#262626" stroke="#262626" stroke-width="0.2"><title>电压出力</title><text x="494" y="231.53" font-size="7.85">电压出力</text></g>
<g fill="#262626" stroke="#262626" stroke-width="0.2"><title>（DC0～±10V）</title><text x="482.22" y="238.23" font-size="7.85">（</text><text x="490.07" y="238.23" font-size="7.85">DC0</text><text x="505.77" y="238.23" font-size="7.85">～</text><text x="513.62" y="238.23" font-size="7.85">±10V</text><text x="531.9" y="238.23" font-size="7.85">）</text></g>
<path d="M718.4 156.6C721 159 721.6 166 721.6 178L721.6 200C721.6 206 723 209 725.2 210C723 211 721.6 214 721.6 220L721.6 244C721.6 256 721.4 261 719.4 264.6" stroke-width="0.9"/>
<g fill="#262626" stroke="#262626" stroke-width="0.2"><title>模拟量输出</title><text font-size="7.7"><tspan x="729.35" y="199.93">模</tspan><tspan x="729.35" y="207.73">拟</tspan><tspan x="729.35" y="215.73">量</tspan><tspan x="729.35" y="223.53">输</tspan><tspan x="729.35" y="231.33">出</tspan></text></g>
<path d="M590 261.6L606.6 261.6" stroke-dasharray="2.5 2"/>
<rect x="565.6" y="258" width="24.4" height="10" fill="#fff" rx="5"/>
<g fill="#262626" stroke="#262626" stroke-width="0.2"><text x="573.13" y="265.59" font-size="7.63">0V</text></g>
<circle cx="606.6" cy="261.6" r="1.35" fill="#fff"/>
<path d="M592.8 255.7L592.8 252.8M592.8 255.7L595.56 254.8M592.8 255.7L594.5 258.05M592.8 255.7L591.1 258.05M592.8 255.7L590.04 254.8" stroke-width="1" stroke="#ea2836"/>
<g fill="#ea2836" stroke="#ea2836" stroke-width="0.2"><text x="597.2" y="259" font-size="9">15</text></g>
<g fill="#262626" stroke="#262626" stroke-width="0.2"><text x="594.2" y="273" font-size="7.8">11</text></g>
<g fill="#262626" stroke="#262626" stroke-width="0.2"><title>模拟量输入输出指令</title><text x="619" y="267.83" font-size="7.85">模拟量输入输出指令</text></g>
<path d="M264.7 229.4L210 229.4L210 273.6L264.7 273.6"/>
<rect x="208.1" y="249.8" width="3.9" height="8" fill="#fff"/>
<path d="M219 253.6L264.7 253.6"/>
<g fill="#262626" stroke="#262626" stroke-width="0.2"><text x="212" y="226.4" font-size="5.94">3</text></g>
<g fill="#262626" stroke="#262626" stroke-width="0.2"><text x="213.4" y="248.4" font-size="5.94">2</text></g>
<g fill="#262626" stroke="#262626" stroke-width="0.2"><text x="213.2" y="272" font-size="5.94">1</text></g>
<ellipse cx="227.3" cy="251.4" rx="3.2" ry="26.6" stroke-dasharray="3 2"/>
<path d="M227.4 224.8L248.3 224.8Q252 252 248.6 279.2L228.6 279.2Q226.6 279 226.4 277" stroke-dasharray="3 2"/>
<circle cx="248.6" cy="279.4" r="1.35" fill="#fff"/>
<path d="M247.8 281L247.5 303.6" stroke-dasharray="3 2"/>
<path d="M247.4 330.2L247.4 346.2" stroke-dasharray="3 2"/>
<path d="M264.7 229.4L395 229.4"/>
<path d="M264.7 253.6L419 253.6"/>
<path d="M264.7 273.8L310.5 273.8L310.5 280"/>
<rect x="299.6" y="279.9" width="21.8" height="9.4" fill="#fff" rx="4.7"/>
<g fill="#262626" stroke="#262626" stroke-width="0.2"><text x="305.83" y="287.19" font-size="7.63">0V</text></g>
<path d="M320.8 274.7L320.8 271.8M320.8 274.7L323.56 273.8M320.8 274.7L322.5 277.05M320.8 274.7L319.1 277.05M320.8 274.7L318.04 273.8" stroke-width="1" stroke="#ea2836"/>
<g fill="#ea2836" stroke="#ea2836" stroke-width="0.2"><text x="325.2" y="278" font-size="9">15</text></g>
<circle cx="264.7" cy="229.4" r="1.35" fill="#fff"/>
<g fill="#262626" stroke="#262626" stroke-width="0.2"><text x="270.6" y="227.2" font-size="8.5">13</text></g>
<circle cx="264.7" cy="253.6" r="1.35" fill="#fff"/>
<g fill="#262626" stroke="#262626" stroke-width="0.2"><text x="270.6" y="251.4" font-size="8.5">12</text></g>
<circle cx="264.7" cy="273.8" r="1.35" fill="#fff"/>
<g fill="#262626" stroke="#262626" stroke-width="0.2"><text x="270.6" y="271.6" font-size="8.5">11</text></g>
<path d="M263.7 274.2L255.6 277.6L255.6 394"/>
<path d="M395 220.4L395 300.4"/>
<rect x="392.6" y="281.6" width="4.6" height="6.8" fill="#fff"/>
<rect x="374" y="210" width="41" height="10.4" fill="#fff" rx="5.2"/>
<g fill="#262626" stroke="#262626" stroke-width="0.2"><text x="378.04" y="217.94" font-size="8.06">DC&#160;+10V</text></g>
<ellipse cx="224.5" cy="316.7" rx="2.8" ry="11.5" stroke-dasharray="2.6 1.8"/>
<path d="M225.4 305.2L245.6 305.2" stroke-dasharray="3 2"/>
<path d="M225.4 328.2L245.6 328.2" stroke-dasharray="3 2"/>
<path d="M249.7 310.1L249.7 322.5" stroke-dasharray="3 2"/>
<circle cx="247.3" cy="305.6" r="1.5" fill="#fff"/>
<circle cx="247.3" cy="328.4" r="1.5" fill="#fff"/>
<path d="M220.2 309.5L264.7 309.5"/>
<path d="M220.2 322.9L255.6 322.9" stroke-width="1.1" stroke="#2a2a2a"/>
<circle cx="255.7" cy="322.9" r="1.45" fill="#fff"/>
<circle cx="264.7" cy="309.5" r="1.35" fill="#fff"/>
<g fill="#262626" stroke="#262626" stroke-width="0.2"><text x="269.6" y="306.3" font-size="8.5">V2</text></g>
<g fill="#262626" stroke="#262626" stroke-width="0.2"><text x="211.8" y="311.4" font-size="6.3" font-weight="bold">(+)</text></g>
<g fill="#262626" stroke="#262626" stroke-width="0.2"><text x="213.2" y="324.6" font-size="5.2" font-weight="bold">(-)</text></g>
<ellipse cx="224.5" cy="359.3" rx="2.8" ry="11.5" stroke-dasharray="2.6 1.8"/>
<path d="M225.4 347.8L245.6 347.8" stroke-dasharray="3 2"/>
<path d="M225.4 370.8L245.6 370.8" stroke-dasharray="3 2"/>
<path d="M249.7 355.3L249.7 364.6" stroke-dasharray="3 2"/>
<circle cx="247.3" cy="348.2" r="1.5" fill="#fff"/>
<circle cx="247.3" cy="371" r="1.5" fill="#fff"/>
<path d="M220.2 354.7L264.7 354.7"/>
<path d="M220.2 365L255.6 365" stroke-width="1.1" stroke="#2a2a2a"/>
<circle cx="255.7" cy="365" r="1.45" fill="#fff"/>
<circle cx="264.7" cy="354.7" r="1.35" fill="#fff"/>
<g fill="#262626" stroke="#262626" stroke-width="0.2"><text x="269.6" y="351.5" font-size="8.5">C1</text></g>
<g fill="#262626" stroke="#262626" stroke-width="0.2"><text x="211.8" y="353.5" font-size="6.3" font-weight="bold">(+)</text></g>
<g fill="#262626" stroke="#262626" stroke-width="0.2"><text x="213.2" y="366.7" font-size="5.2" font-weight="bold">(-)</text></g>
<path d="M247.2 372.4L247 376.4Q246.6 378.2 241.6 379.2" stroke-width="0.8" stroke-dasharray="2.4 1.2"/>
<path d="M237.7 380.6L243.1 380.6" stroke-width="0.9"/>
<path d="M238.43 382.7L241.77 382.7" stroke-width="0.9"/>
<path d="M239.12 384.8L240.48 384.8" stroke-width="0.9"/>
<path d="M264.7 309.4L334.4 309.4"/>
<rect x="331" y="297.8" width="19.2" height="23.4" fill="#fff"/>
<path d="M331 309.4L334.4 309.4"/>
<circle cx="335.8" cy="309.3" r="1.4" fill="#fff"/>
<circle cx="347.2" cy="304.5" r="1.4" fill="#fff"/>
<circle cx="347.2" cy="314.2" r="1.4" fill="#fff"/>
<path d="M337 309.8Q342.4 310.6 346 313.4"/>
<path d="M347.4 303.2L347.4 300.4L418 300.4"/>
<path d="M347.4 315.6L347.4 318.8L418 318.8"/>
<g fill="#262626" stroke="#262626" stroke-width="0.22"><text x="354.4" y="298" font-size="6.2">PTC/NTC</text></g>
<g fill="#262626" stroke="#262626" stroke-width="0.2"><text x="363.4" y="316.4" font-size="8.5">V2</text></g>
<g fill="#2c8cc4" stroke="#2c8cc4" stroke-width="0.4"><text x="333.6" y="328" font-size="6.2">SW5</text></g>
<path d="M346.2 332.3L346.2 329.4M346.2 332.3L348.96 331.4M346.2 332.3L347.9 334.65M346.2 332.3L344.5 334.65M346.2 332.3L343.44 331.4" stroke-width="1" stroke="#ea2836"/>
<g fill="#ea2836" stroke="#ea2836" stroke-width="0.2"><text x="350.6" y="335.6" font-size="9">11</text></g>
<path d="M264.7 354.6L335.6 354.6"/>
<rect x="332.4" y="342.4" width="19.2" height="24.6" fill="#fff"/>
<path d="M332.4 354.8L335.6 354.8"/>
<circle cx="337" cy="355" r="1.4" fill="#fff"/>
<circle cx="348.7" cy="348.8" r="1.4" fill="#fff"/>
<circle cx="348.7" cy="360" r="1.4" fill="#fff"/>
<path d="M338.4 355.4Q343.6 356 347.4 359"/>
<path d="M348.9 347.4L348.9 345.5L420 345.5"/>
<path d="M348.9 361.4L348.9 364.3L420 364.3"/>
<g fill="#262626" stroke="#262626" stroke-width="0.2"><text x="364.2" y="342.4" font-size="8.5">V3</text></g>
<g fill="#262626" stroke="#262626" stroke-width="0.2"><text x="364.2" y="361" font-size="8.5">C1</text></g>
<g fill="#2c8cc4" stroke="#2c8cc4" stroke-width="0.4"><text x="335.4" y="373.6" font-size="6.2">SW8</text></g>
<path d="M353.2 374.7L353.2 371.8M353.2 374.7L355.96 373.8M353.2 374.7L354.9 377.05M353.2 374.7L351.5 377.05M353.2 374.7L350.44 373.8" stroke-width="1" stroke="#ea2836"/>
<g fill="#ea2836" stroke="#ea2836" stroke-width="0.2"><text x="357.6" y="378" font-size="9">11</text></g>
<path d="M393.5 364.3L393.5 382.6"/>
<rect x="391.2" y="370" width="4.6" height="6.6" fill="#fff"/>
<rect x="383" y="382.4" width="21" height="9.6" fill="#fff" rx="4.8"/>
<g fill="#262626" stroke="#262626" stroke-width="0.2"><text x="388.83" y="389.79" font-size="7.63">0V</text></g>
<path d="M405.2 372.3L405.2 369.4M405.2 372.3L407.96 371.4M405.2 372.3L406.9 374.65M405.2 372.3L403.5 374.65M405.2 372.3L402.44 371.4" stroke-width="1" stroke="#ea2836"/>
<g fill="#ea2836" stroke="#ea2836" stroke-width="0.2"><text x="409.6" y="375.6" font-size="9">11</text></g>
<path d="M99.4 224C96.6 227 95.6 236 95.6 250L95.6 298C95.6 304 93.6 307 91 308.2C93.6 309.4 95.6 312.4 95.6 318L95.6 366C95.6 380 96.6 388 99.8 391" stroke-width="0.9"/>
<g fill="#262626" stroke="#262626" stroke-width="0.2"><title>模拟输入</title><text font-size="7.6"><tspan x="75.2" y="307.89">模</tspan><tspan x="75.2" y="315.89">拟</tspan><tspan x="75.2" y="323.89">输</tspan><tspan x="75.2" y="331.69">入</tspan></text></g>
<g fill="#262626" stroke="#262626" stroke-width="0.2"><title>可变电阻器用电源</title><text x="110" y="231.43" font-size="7.85">可变电阻器用电源</text></g>
<g fill="#262626" stroke="#262626" stroke-width="0.2"><title>设定用电压输入</title><text x="121" y="250.83" font-size="7.85">设定用电压输入</text></g>
<g fill="#262626" stroke="#262626" stroke-width="0.2"><title>DC0～±10V</title><text x="121" y="260.53" font-size="7.7">DC0</text><text x="136.4" y="260.53" font-size="7.85">～</text><text x="144.25" y="260.53" font-size="7.7">±10V</text></g>
<g fill="#262626" stroke="#262626" stroke-width="0.2"><title>模拟量输入输出指令</title><text x="122.4" y="276.43" font-size="7.85">模拟量输入输出指令</text></g>
<g fill="#262626" stroke="#262626" stroke-width="0.2"><text x="110.2" y="312.16" font-size="6.36">•</text></g>
<g fill="#262626" stroke="#262626" stroke-width="0.2"><title>设定用电压输入</title><text x="114.4" y="312.83" font-size="7.85">设定用电压输入</text></g>
<g fill="#262626" stroke="#262626" stroke-width="0.2"><title>DC0～±10V</title><text x="113" y="322.43" font-size="7.7">DC0</text><text x="128.4" y="322.43" font-size="7.85">～</text><text x="136.25" y="322.43" font-size="7.7">±10V</text></g>
<g fill="#262626" stroke="#262626" stroke-width="0.2"><text x="110.2" y="331.16" font-size="6.36">•</text></g>
<g fill="#262626" stroke="#262626" stroke-width="0.2"><title>PTC/NTC入力</title><text x="114.4" y="331.83" font-size="8">PTC/NTC</text><text x="149.06" y="331.83" font-size="7.85">入力</text></g>
<g fill="#262626" stroke="#262626" stroke-width="0.2"><title>设定用电流输入</title><text x="112.4" y="353.83" font-size="7.85">设定用电流输入</text></g>
<g fill="#262626" stroke="#262626" stroke-width="0.2"><title>DC4（0）～20mA</title><text x="112.4" y="363.33" font-size="7.7">DC4</text><text x="127.8" y="363.33" font-size="7.85">（</text><text x="135.65" y="363.33" font-size="7.7">0</text><text x="139.94" y="363.33" font-size="7.85">）～</text><text x="155.64" y="363.33" font-size="7.7">20mA</text></g>
<g fill="#262626" stroke="#262626" stroke-width="0.2"><title>设定用电压输入</title><text x="112.4" y="372.53" font-size="7.85">设定用电压输入</text></g>
<g fill="#262626" stroke="#262626" stroke-width="0.2"><title>DC0～±10V</title><text x="112.4" y="381.83" font-size="7.7">DC0</text><text x="127.8" y="381.83" font-size="7.85">～</text><text x="135.65" y="381.83" font-size="7.7">±10V</text></g>
<path d="M483 291.6L651 291.6"/>
<path d="M487 299.5L651 299.5"/>
<path d="M482.8 290.2L482.8 299.4L491 295Z" fill="#fff"/>
<circle cx="487.1" cy="299.4" r="1.4" fill="#fff"/>
<path d="M491 306.4L491 314.9L482.4 310.6Z" fill="#fff"/>
<circle cx="492.3" cy="312.8" r="1.4" fill="#fff"/>
<path d="M494.3 291.6L494.3 307.4L491 307.4"/>
<path d="M499.6 299.5L499.6 311.8L493.4 311.8"/>
<path d="M509.9 291.6L509.9 318.6"/>
<rect x="508" y="305.6" width="3.8" height="7.4" fill="#fff"/>
<circle cx="509.6" cy="319.9" r="1.35" fill="#fff"/>
<path d="M510.4 325L513.6 321.2"/>
<circle cx="509.6" cy="325.9" r="1.35" fill="#fff"/>
<path d="M509.8 327.2L509.8 332L519.8 332L519.8 299.5"/>
<g fill="#2c8cc4" stroke="#2c8cc4" stroke-width="0.4"><text x="490.4" y="325" font-size="6.3">SW2</text></g>
<path d="M493.8 333.1L493.8 330.2M493.8 333.1L496.56 332.2M493.8 333.1L495.5 335.45M493.8 333.1L492.1 335.45M493.8 333.1L491.04 332.2" stroke-width="1" stroke="#ea2836"/>
<g fill="#ea2836" stroke="#ea2836" stroke-width="0.2"><text x="498.2" y="336.4" font-size="9">11</text></g>
<g fill="#262626" stroke="#262626" stroke-width="0.2"><text x="539.4" y="309.4" font-size="7.6">RS-485</text></g>
<g fill="#262626" stroke="#262626" stroke-width="0.2"><title>通信端口2</title><text x="539.4" y="319.03" font-size="7.85">通信端口</text><text x="570.8" y="319.03" font-size="8.32">2</text></g>
<g fill="#262626" stroke="#262626" stroke-width="0.2"><title>(端子台)</title><text x="539.4" y="327.03" font-size="8.32">(</text><text x="542.17" y="327.03" font-size="7.85">端子台</text><text x="565.72" y="327.03" font-size="8.32">)</text></g>
<g fill="#262626" stroke="#262626" stroke-width="0.2"><text x="592.6" y="290.6" font-size="7.5">DX+</text></g>
<g fill="#262626" stroke="#262626" stroke-width="0.2"><text x="592.68" y="298.6" font-size="7.5">DX-</text></g>
<g fill="#262626" stroke="#262626" stroke-width="0.2"><title>（SD）</title><text x="585.25" y="320.43" font-size="7.85">（</text><text x="593.1" y="320.43" font-size="8.32">SD</text><text x="604.66" y="320.43" font-size="7.85">）</text></g>
<circle cx="606.6" cy="291.6" r="1.35" fill="#fff"/>
<circle cx="606.6" cy="299.5" r="1.35" fill="#fff"/>
<path d="M620 283L637.1 283Q639.6 283 639.6 285.5L639.6 307.5Q639.6 310 637.1 310L621 310" stroke-dasharray="3 2"/>
<ellipse cx="620.2" cy="296.5" rx="2.6" ry="13.5" stroke-dasharray="3 2"/>
<path d="M606.6 317.6L612.4 317.6L612.4 309.4L619.4 309.4"/>
<circle cx="620.6" cy="309.6" r="1.35" fill="#fff"/>
<circle cx="606.6" cy="317.6" r="1.35" fill="#fff"/>
<g fill="#262626" stroke="#262626" stroke-width="0.2"><title>数据收发</title><text x="662.4" y="299.23" font-size="7.85">数据收发</text></g>
<rect x="492.4" y="349" width="104" height="9.6" fill="#fff" stroke-width="0.9"/>
<g fill="#262626" stroke="#262626" stroke-width="0.32"><title>选配卡连接接口A</title><text x="502" y="356.68" font-size="6.6">选配卡连接接口</text><text x="548.2" y="356.68" font-size="6.4">A</text></g>
<rect x="492.4" y="361.6" width="104" height="9.6" fill="#fff" stroke-width="0.9"/>
<g fill="#262626" stroke="#262626" stroke-width="0.32"><title>选配卡连接接口B</title><text x="502" y="369.28" font-size="6.6">选配卡连接接口</text><text x="548.2" y="369.28" font-size="6.4">B</text></g>
<rect x="492.4" y="374" width="104" height="9.6" fill="#fff" stroke-width="0.9"/>
<g fill="#262626" stroke="#262626" stroke-width="0.32"><title>选配卡连接接口C</title><text x="502" y="381.68" font-size="6.6">选配卡连接接口</text><text x="548.2" y="381.68" font-size="6.4">C</text></g></g></svg>
</body></html>
